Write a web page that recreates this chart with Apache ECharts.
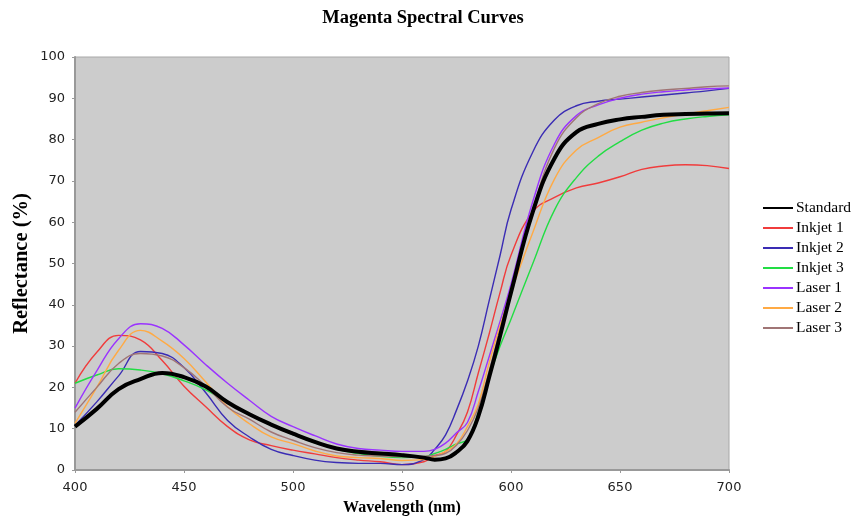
<!DOCTYPE html>
<html>
<head>
<meta charset="utf-8">
<script src="https://cdn.jsdelivr.net/npm/echarts@6/dist/echarts.min.js"></script>
<style>html,body{margin:0;padding:0;background:#fff;}#c{width:854px;height:519px;}</style>
</head>
<body>
<div id="c"></div>
<script>
const wavelengths = [400,410,420,430,440,450,460,470,480,490,500,510,520,530,540,550,560,565,570,575,580,585,590,595,600,610,620,630,640,650,660,670,680,690,700];
const standard = [10.5,14.8,19.6,22,23.5,22.5,20.2,16.4,13.5,11,8.8,6.8,5.2,4.4,4,3.6,3.0,2.5,2.8,4.3,7,13,22.5,32.5,43,62.5,75.5,81.8,83.8,84.9,85.5,86,86.2,86.3,86.4];
const inkjet1 = [21,28.5,32.6,31.5,26.5,20.3,15.3,10.5,7.3,5.9,4.8,3.9,3,2.4,2,1.3,2,3.5,4.5,8.5,14,23.5,33,43,52,62.5,66,68.3,69.5,71,72.8,73.6,73.9,73.7,73];
const inkjet2 = [10.8,16.5,22.8,28.7,28.2,24.8,18.7,12,8,5,3.5,2.4,1.8,1.6,1.6,1.3,2.5,5,8.5,14.5,21.5,30,41,52,63,77,84.8,88.2,89.3,89.8,90.3,90.8,91.3,91.8,92.4];
const inkjet3 = [21,23,24.5,24.2,23.3,21.6,19.4,16.3,13.4,10.9,8.6,6.6,5,4,3.3,3,3.2,4,5,6.3,7.5,14,22.5,30,36.5,50,63,70.8,76,79.5,82.3,84,85,85.6,86];
const laser1 = [15,24,31.8,35.4,34.3,30.3,25.5,21,16.9,13,10.5,8.3,6.3,5.2,4.8,4.5,4.5,5,6.5,9,11.5,19,27.5,36,45,65,79,85.8,88.4,90,91,91.6,92,92.3,92.5];
const laser2 = [11.3,20,29,33.8,31.2,27,21.3,15.3,11.2,8,6.4,4.6,3.4,3,2.8,2.3,2.5,3.3,4.5,6.3,10.5,16,26,35,43,57.5,70.5,77.5,80.5,83,84.2,85.3,86.2,87,87.8];
const laser3 = [14,20,25.8,28.2,27.6,24.8,20.3,15.2,12.3,9.2,7.2,5.4,4.2,3.6,3.4,3.2,3.3,3.5,4,6,9.5,15,24,34,44,63,78,85.3,88.7,90.5,91.4,92,92.4,92.8,93];

const seriesNames = ['Standard','Inkjet 1','Inkjet 2','Inkjet 3','Laser 1','Laser 2','Laser 3'];
const seriesData = [standard, inkjet1, inkjet2, inkjet3, laser1, laser2, laser3];
const seriesColors = ['#000000','#f03c3c','#3a2cb4','#22dd44','#9a33ff','#ffaa44','#a07575'];
const seriesWidths = [4,1.4,1.4,1.4,1.4,1.4,1.4];

const chart = echarts.init(document.getElementById('c'), null, {renderer:'canvas'});
const series = seriesNames.map((n,i)=>({
  name:n, type:'line', smooth:0.45, symbol:'none',
  data: wavelengths.map((w,j)=>[w, seriesData[i][j]]),
  lineStyle:{color:seriesColors[i], width:seriesWidths[i]},
  itemStyle:{color:seriesColors[i]},
  z: i===0 ? 3 : 2
}));
chart.setOption({
  animation:false,
  title:{text:'Magenta Spectral Curves', left:418, top:4, textAlign:'center',
    textStyle:{fontFamily:'Liberation Serif', fontWeight:'bold', fontSize:18.5, color:'#000'}},
  grid:{left:75, right:125, top:57, bottom:49, outerBoundsMode:'none', show:true, backgroundColor:'#cccccc', borderColor:'#a8a8a8', borderWidth:1},
  legend:{orient:'vertical', left:757, top:195, itemWidth:30, itemHeight:14, itemGap:4,
    data:seriesNames,
    itemStyle:{opacity:0},
    textStyle:{fontFamily:'Liberation Serif', fontSize:15.5, color:'#000', padding:[0,0,0,-2]}},
  xAxis:{type:'value', min:400, max:700, interval:50,
    name:'Wavelength (nm)', nameLocation:'middle', nameGap:30, nameMoveOverlap:false,
    nameTextStyle:{fontFamily:'Liberation Serif', fontWeight:'bold', fontSize:16, color:'#000'},
    axisLine:{lineStyle:{color:'#999', width:2}},
    axisTick:{length:3, lineStyle:{color:'#999'}},
    axisLabel:{fontFamily:'DejaVu Sans', fontSize:13, color:'#222', margin:11},
    splitLine:{show:false}},
  yAxis:{type:'value', min:0, max:100, interval:10,
    name:'Reflectance (%)', nameLocation:'middle', nameGap:43, nameMoveOverlap:false,
    nameTextStyle:{fontFamily:'Liberation Serif', fontWeight:'bold', fontSize:20.5, color:'#000'},
    axisLine:{show:true, lineStyle:{color:'#999', width:2}},
    axisTick:{show:true, length:3, lineStyle:{color:'#999'}},
    axisLabel:{fontFamily:'DejaVu Sans', fontSize:13, color:'#222', margin:10},
    splitLine:{show:false}},
  series: series
});
</script>
</body>
</html>
